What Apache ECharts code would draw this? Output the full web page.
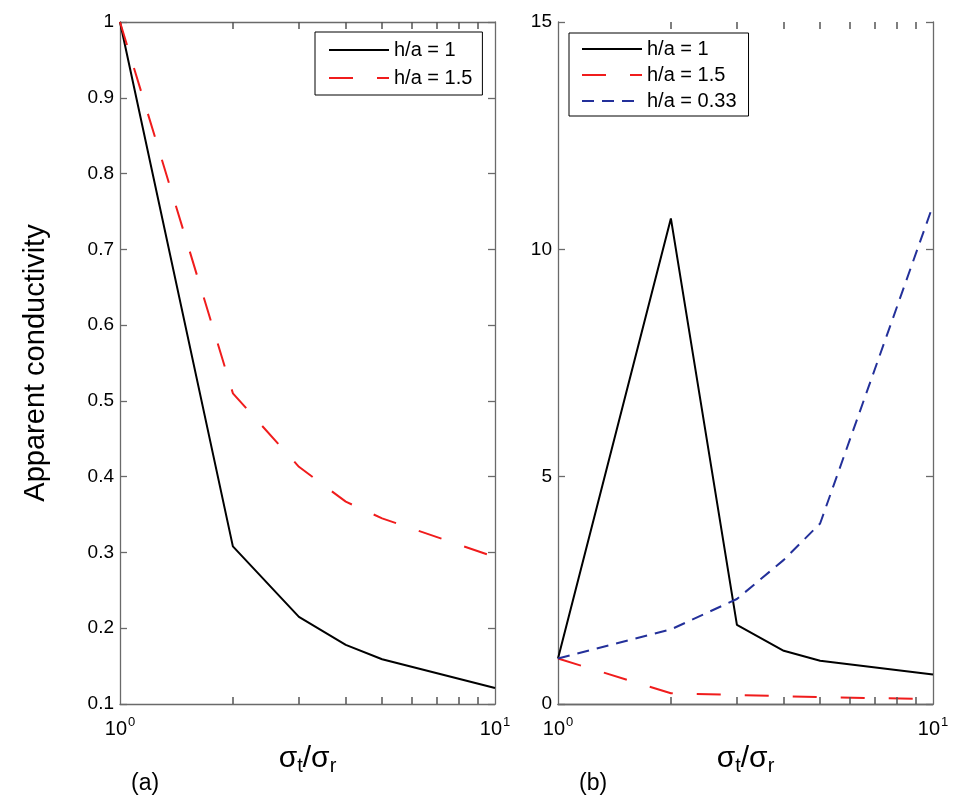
<!DOCTYPE html>
<html>
<head>
<meta charset="utf-8">
<script src="https://cdn.jsdelivr.net/npm/echarts@6/dist/echarts.min.js"></script>
<style>html,body{margin:0;padding:0;background:#fff;}#c{width:964px;height:810px;}</style>
</head>
<body>
<div id="c"></div>
<script>
// ---- data ----
const xVals = [1, 2, 3, 4, 5, 10];            // sigma_t / sigma_r
const a_h1  = [1.0, 0.308, 0.215, 0.178, 0.159, 0.121];
const a_h15 = [1.0, 0.51, 0.413, 0.367, 0.345, 0.294];
const b_h1  = [1.0, 10.68, 1.74, 1.17, 0.95, 0.65];
const b_h15 = [1.0, 0.235, 0.20, 0.17, 0.15, 0.11];
const b_h033 = [1.0, 1.64, 2.31, 3.17, 3.97, 10.97];
const minorTicks = [2, 3, 4, 5, 6, 7, 8, 9];
const names = ['h/a = 1', 'h/a = 1.5', 'h/a = 0.33'];
const yTicksA = { min: 0.1, max: 1, interval: 0.1 };
const yTicksB = { min: 0, max: 15, interval: 5 };

const FONT = 'Liberation Sans';
const AXC = '#6a6a6a';
const pair = (xs, ys) => xs.map((x, i) => [x, ys[i]]);

function xAxes(gi) {
  return [{
    type: 'log', logBase: 10, min: 1, max: 10, gridIndex: gi, position: 'bottom',
    axisLine: { lineStyle: { color: AXC, width: 1.3 } },
    axisTick: { show: false },
    splitLine: { show: false },
    axisLabel: {
      margin: 12, color: '#000',
      formatter: v => '{b|10}{s|' + Math.round(Math.log10(v)) + '}',
      rich: {
        b: { fontSize: 20, fontFamily: FONT, color: '#000' },
        s: { fontSize: 13, fontFamily: FONT, color: '#000', padding: [0, 0, 13, 1] }
      }
    },
    name: '{m|σ}{u|t}{m|/σ}{u|r}', nameLocation: 'middle', nameGap: 32,
    nameTextStyle: {
      rich: {
        m: { fontSize: 30, fontFamily: FONT, color: '#000' },
        u: { fontSize: 20, fontFamily: FONT, color: '#000', padding: [16, 0, 0, 0] }
      }
    }
  }, {
    type: 'log', logBase: 10, min: 1, max: 10, gridIndex: gi, position: 'top',
    axisLine: { lineStyle: { color: AXC, width: 1.3 } },
    axisTick: { show: false }, axisLabel: { show: false }, splitLine: { show: false }
  }];
}
function yAxes(gi, t, fmt, name) {
  return [{
    type: 'value', gridIndex: gi, position: 'left', min: t.min, max: t.max, interval: t.interval,
    axisLine: { show: true, lineStyle: { color: AXC, width: 1.3 } },
    axisTick: { show: true, inside: true, length: 7, lineStyle: { color: AXC, width: 1.3 } },
    splitLine: { show: false },
    axisLabel: { color: '#000', fontSize: 19, fontFamily: FONT, margin: 6, formatter: fmt },
    name: name || '', nameLocation: 'middle', nameGap: 70, nameRotate: 90,
    nameTextStyle: { fontSize: 29, fontFamily: FONT, color: '#000' }
  }, {
    type: 'value', gridIndex: gi, position: 'right', min: t.min, max: t.max, interval: t.interval,
    axisLine: { show: true, lineStyle: { color: AXC, width: 1.3 } },
    axisTick: { show: true, inside: true, length: 7, lineStyle: { color: AXC, width: 1.3 } },
    splitLine: { show: false }, axisLabel: { show: false }
  }];
}
function lineS(name, xi, yi, data, color, type, width) {
  return {
    name, type: 'line', xAxisIndex: xi, yAxisIndex: yi, data, symbol: 'none', showSymbol: false,
    lineStyle: { color, type, width }, itemStyle: { color }, z: 3, animation: false
  };
}
const RED = '#f01c1c', BLUE = '#23309a';
const fmtA = v => (Math.round(v * 10) / 10).toString();
const fmtB = v => Math.round(v).toString();
const legendCommon = {
  orient: 'vertical', borderColor: '#000', borderWidth: 1, borderRadius: 0,
  itemWidth: 60, itemHeight: 14, selectedMode: false,
  itemStyle: { opacity: 0 },
  textStyle: { fontSize: 20, fontFamily: FONT, color: '#000' }
};

const option = {
  animation: false,
  backgroundColor: '#fff',
  grid: [
    { left: 120, right: 964 - 495, top: 22, bottom: 810 - 704 },
    { left: 558, right: 964 - 933, top: 22, bottom: 810 - 704 }
  ],
  xAxis: [...xAxes(0), ...xAxes(1)],
  yAxis: [...yAxes(0, yTicksA, fmtA, 'Apparent conductivity'), ...yAxes(1, yTicksB, fmtB)],
  legend: [
    Object.assign({}, legendCommon, {
      data: [names[0], names[1]], left: 315, top: 32, padding: [8, 10, 7, 13], itemGap: 8
    }),
    Object.assign({}, legendCommon, {
      data: names, left: 569, top: 33, padding: [6, 12, 5, 12], itemGap: 6
    })
  ],
  series: [
    lineS(names[0], 0, 0, pair(xVals, a_h1), '#000', 'solid', 2),
    lineS(names[1], 0, 0, pair(xVals, a_h15), RED, [24, 24], 2),
    lineS(names[0], 2, 2, pair(xVals, b_h1), '#000', 'solid', 2),
    lineS(names[1], 2, 2, pair(xVals, b_h15), RED, [24, 24], 2),
    lineS(names[2], 2, 2, pair(xVals, b_h033), BLUE, [12, 8], 2)
  ]
};
const chart = echarts.init(document.getElementById('c'), null, { renderer: 'canvas' });
chart.setOption(option);

// panel letters + minor ticks of the log x axes (2..9), positioned through the chart's own scales
const g = [
  { type: 'text', left: 131, top: 772, style: { text: '(a)', fontSize: 23, fontFamily: FONT, fill: '#000' } },
  { type: 'text', left: 579, top: 772, style: { text: '(b)', fontSize: 23, fontFamily: FONT, fill: '#000' } }
];
[[0, 0, yTicksA], [2, 2, yTicksB]].forEach(([xi, yi, t]) => {
  minorTicks.forEach(v => {
    const b = chart.convertToPixel({ xAxisIndex: xi, yAxisIndex: yi }, [v, t.min]);
    const tp = chart.convertToPixel({ xAxisIndex: xi, yAxisIndex: yi }, [v, t.max]);
    const st = { stroke: '#555', lineWidth: 1.5 };
    const x = Math.round(b[0]);
    g.push({ type: 'line', silent: true, z: 50, shape: { x1: x, y1: b[1], x2: x, y2: b[1] - 7 }, style: st });
    g.push({ type: 'line', silent: true, z: 50, shape: { x1: x, y1: tp[1], x2: x, y2: tp[1] + 7 }, style: st });
  });
});
chart.setOption({ graphic: g });
</script>
</body>
</html>
